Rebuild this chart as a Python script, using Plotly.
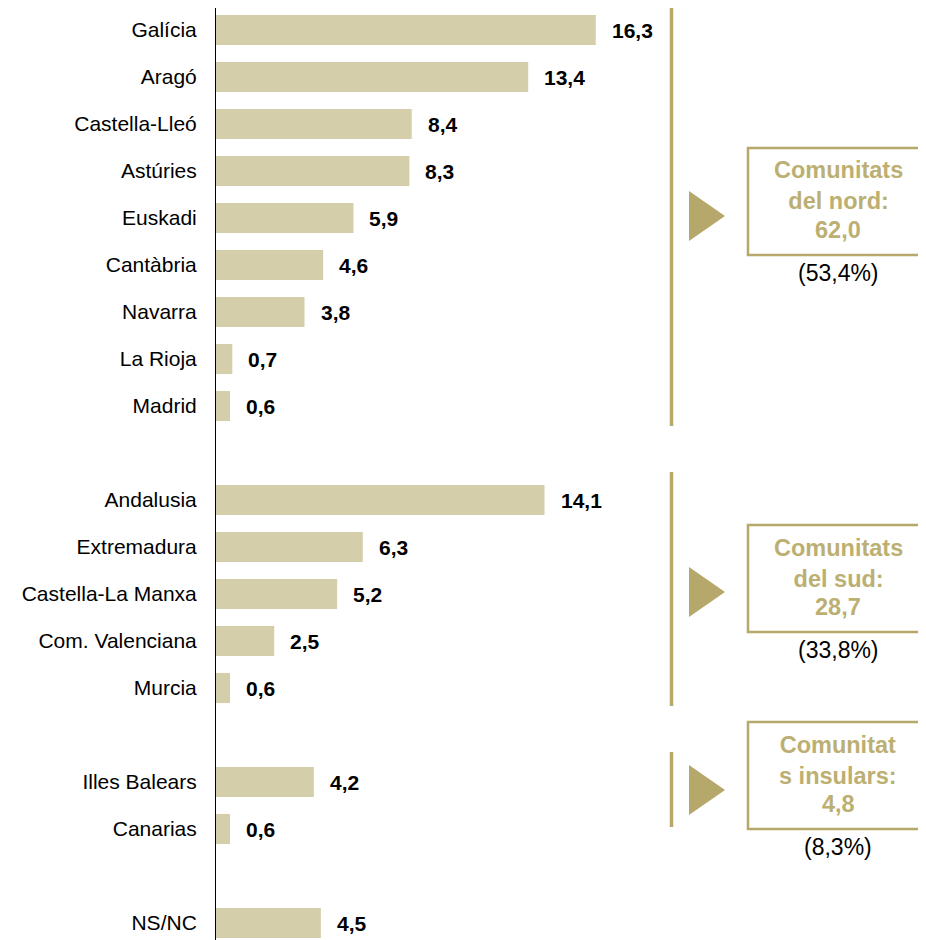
import plotly.graph_objects as go

# ---- data ----
north_regions = ["Galícia", "Aragó", "Castella-Lleó", "Astúries", "Euskadi",
                 "Cantàbria", "Navarra", "La Rioja", "Madrid"]
north_values = [16.3, 13.4, 8.4, 8.3, 5.9, 4.6, 3.8, 0.7, 0.6]
south_regions = ["Andalusia", "Extremadura", "Castella-La Manxa", "Com. Valenciana", "Murcia"]
south_values = [14.1, 6.3, 5.2, 2.5, 0.6]
island_regions = ["Illes Balears", "Canarias"]
island_values = [4.2, 0.6]
other_regions = ["NS/NC"]
other_values = [4.5]

group_titles = ["Comunitats<br>del nord:", "Comunitats<br>del sud:", "Comunitat<br>s insulars:"]
group_totals = ["62,0", "28,7", "4,8"]
group_shares = ["(53,4%)", "(33,8%)", "(8,3%)"]

# ---- build category order with spacer slots ----
categories = (north_regions + [" "] + south_regions + ["  "] + island_regions
              + ["   "] + other_regions)
regions = north_regions + south_regions + island_regions + other_regions
values = north_values + south_values + island_values + other_values

def fmt(v):
    return f"{v:.1f}".replace(".", ",")

BAR = "#D5CEAA"
GOLD = "#B6A86A"
GOLD_TXT = "#BCAF72"
FONT = "Liberation Sans, Arial, sans-serif"

OFF = 8                      # default page body margin
W, H = 926 - OFF, 940 - OFF
ML, MT = 208, 0
PW, PH = W - ML, H - MT
PX_PER_UNIT = 23.3
SLOT = 47.0

def px(page_x):
    return (page_x - OFF - ML) / PW

def py(page_y):
    return 1 - (page_y - OFF - MT) / PH

r_top = -0.5 + 1.5 / SLOT
r_bot = r_top + PH / SLOT

fig = go.Figure()
fig.add_trace(go.Bar(
    x=values, y=regions, orientation="h",
    marker=dict(color=BAR, line=dict(width=0)),
    hoverinfo="skip",
))

annotations = []
for r, v in zip(regions, values):
    annotations.append(dict(
        x=v, y=r, xref="x", yref="y", text=f"<b>{fmt(v)}</b>",
        showarrow=False, xanchor="left", yanchor="middle", xshift=14,
        font=dict(family=FONT, size=21, color="black"),
    ))

shapes = []
# group brackets (page px): (line top, line bottom, triangle center y, box top, box bottom)
groups = [
    (3, 426, 216, 148, 255),
    (472, 706, 592, 525, 632),
    (752, 827, 790, 722, 829),
]
for i, (lt, lb, tc, bt, bb) in enumerate(groups):
    shapes.append(dict(type="line", xref="paper", yref="paper",
                       x0=px(671.5), x1=px(671.5), y0=py(max(lt, OFF)), y1=py(lb),
                       line=dict(color=GOLD, width=3.5)))
    shapes.append(dict(type="path", xref="paper", yref="paper",
                       path=f"M {px(689)} {py(tc-25)} L {px(725)} {py(tc)} L {px(689)} {py(tc+25)} Z",
                       fillcolor=GOLD, line=dict(width=0)))
    shapes.append(dict(type="rect", xref="paper", yref="paper",
                       x0=px(748), x1=px(935), y0=py(bb), y1=py(bt),
                       line=dict(color=GOLD, width=2.5), fillcolor="rgba(0,0,0,0)"))
    cx = px(838)
    annotations.append(dict(
        x=cx, y=py(bt + 38), xref="paper", yref="paper",
        text=f"<b>{group_titles[i]}</b>", showarrow=False,
        xanchor="center", yanchor="middle", align="center",
        font=dict(family=FONT, size=23.5, color=GOLD_TXT),
    ))
    annotations.append(dict(
        x=cx, y=py(bt + 82), xref="paper", yref="paper",
        text=f"<b>{group_totals[i]}</b>", showarrow=False,
        xanchor="center", yanchor="middle",
        font=dict(family=FONT, size=23.5, color=GOLD_TXT),
    ))
    annotations.append(dict(
        x=cx, y=py(bb + 18), xref="paper", yref="paper",
        text=group_shares[i], showarrow=False,
        xanchor="center", yanchor="middle",
        font=dict(family=FONT, size=23, color="black"),
    ))

fig.update_layout(
    width=W, height=H,
    margin=dict(l=ML, r=0, t=MT, b=0, pad=0),
    paper_bgcolor="white", plot_bgcolor="white",
    showlegend=False,
    bargap=0.36,
    xaxis=dict(range=[0, PW / PX_PER_UNIT], visible=False, fixedrange=True),
    yaxis=dict(
        type="category", categoryorder="array", categoryarray=categories,
        range=[r_bot, r_top],
        showline=True, linecolor="black", linewidth=1,
        showgrid=False, zeroline=False, ticks="",
        ticklabelstandoff=14,
        tickfont=dict(family=FONT, size=21, color="black"),
    ),
    shapes=shapes,
    annotations=annotations,
    font=dict(family=FONT),
)

fig.write_html("out.html")
